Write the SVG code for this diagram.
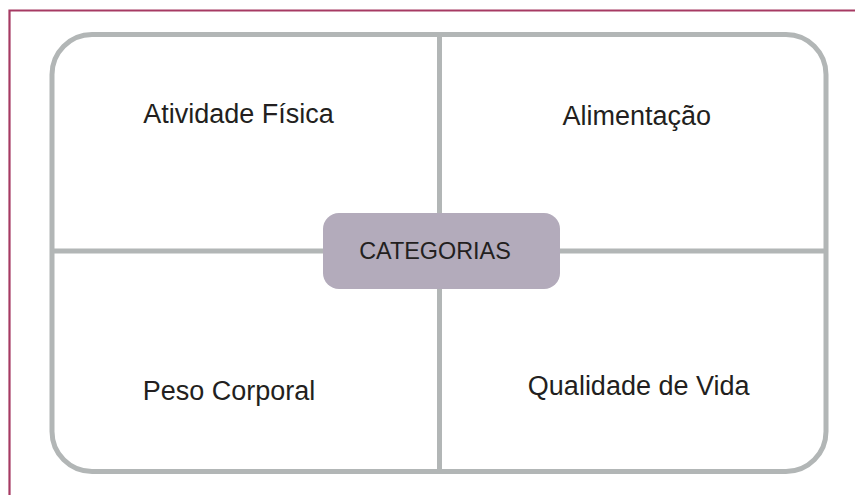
<svg xmlns="http://www.w3.org/2000/svg" width="855" height="495" viewBox="0 0 855 495">
<style>
.lbl{font-family:"Liberation Sans",Arial,sans-serif;font-size:27px;fill:#231f20}
.ctr{font-family:"Liberation Sans",Arial,sans-serif;font-size:23.4px;fill:#231f20}
.ln{stroke:#b2b6b6;stroke-width:5;fill:none}
</style>
<rect width="855" height="495" fill="#ffffff"/>
<g id="frame">
<path d="M9.5 495 V10.5 H855" fill="none" stroke="#a63a63" stroke-width="2.2"/>
</g>
<g id="connectors">
<rect class="ln" x="52" y="34.5" width="774" height="437" rx="40"/>
<line class="ln" x1="439.5" y1="34.5" x2="439.5" y2="471.5"/>
<line class="ln" x1="52" y1="251" x2="826" y2="251"/>
</g>
<g id="atividade"><text class="lbl" x="238.5" y="123" text-anchor="middle">Atividade Física</text></g>
<g id="alimentacao"><text class="lbl" x="636.7" y="125" text-anchor="middle">Alimentação</text></g>
<g id="peso"><text class="lbl" x="229" y="400" text-anchor="middle">Peso Corporal</text></g>
<g id="qualidade"><text class="lbl" x="638.7" y="395" text-anchor="middle">Qualidade de Vida</text></g>
<g id="categorias">
<rect x="323" y="213" width="237" height="76" rx="16" fill="#b3abbb"/>
<text class="ctr" x="435" y="259" text-anchor="middle">CATEGORIAS</text>
</g>
</svg>
